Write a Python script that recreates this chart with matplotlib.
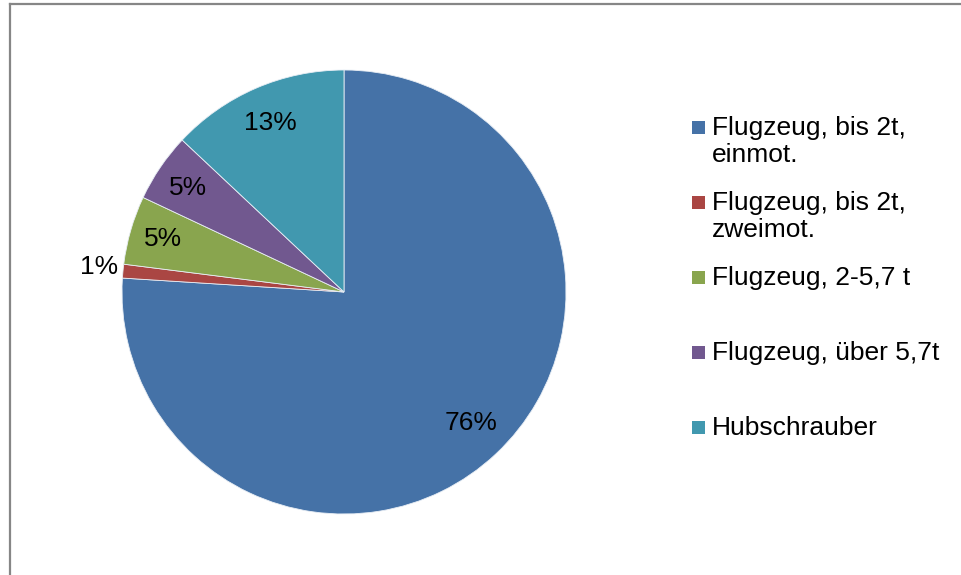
import numpy as np
import matplotlib
matplotlib.use("Agg")
import matplotlib.pyplot as plt
from matplotlib.patches import Rectangle
from matplotlib.lines import Line2D

# Anteile nach Luftfahrzeugklasse (Prozent)
categories = ["Flugzeug, bis 2t,\neinmot.", "Flugzeug, bis 2t,\nzweimot.",
              "Flugzeug, 2-5,7 t", "Flugzeug, über 5,7t", "Hubschrauber"]
shares = [76, 1, 5, 5, 13]
colors = ["#4572A7", "#AA4643", "#89A54E", "#71588F", "#4198AF"]

plt.rcParams["font.family"] = ["Liberation Sans", "DejaVu Sans"]

W, H = 961, 575
fig = plt.figure(figsize=(W / 100, H / 100), dpi=100)

# outer chart frame (only left and top edges fall inside the image)
fig.add_artist(Line2D([9.5 / W, 9.5 / W], [0, 1 - 4 / H], color="#868686", lw=1.6))
fig.add_artist(Line2D([9.5 / W, 1], [1 - 4 / H, 1 - 4 / H], color="#868686", lw=1.6))

# pie, centre (344, 292) px, radius 222 px
cx, cy, r = 344, 292, 222
ax = fig.add_axes([(cx - r) / W, (H - cy - r) / H, 2 * r / W, 2 * r / H])

wedges, _ = ax.pie(shares, colors=colors, startangle=90, counterclock=False,
                   radius=1, wedgeprops=dict(edgecolor="#e8eef5", linewidth=0.6))
ax.set_xlim(-1, 1)
ax.set_ylim(-1, 1)
ax.set_aspect("equal")
ax.axis("off")

# percentage labels
label_r = [0.81, 1.11, 0.85, 0.85, 0.84]
label_dy = [0.0, 0.01, 0.0, -0.01, -0.01]
for w, v, lr, dy in zip(wedges, shares, label_r, label_dy):
    mid = np.deg2rad((w.theta1 + w.theta2) / 2)
    ax.text(lr * np.cos(mid) + (0.02 if v == 76 else 0), lr * np.sin(mid) + dy,
            f"{v}%", ha="center", va="center", fontsize=19, color="black")

# legend, entries spaced evenly, text top-aligned
top0 = 119
step = 75
for i, (lab, c) in enumerate(zip(categories, colors)):
    ytop = top0 + i * step
    fig.add_artist(Rectangle((692 / W, 1 - (ytop + 15) / H), 13 / W, 13 / H,
                             transform=fig.transFigure, facecolor=c, edgecolor="none"))
    fig.text(712 / W, 1 - (ytop - 3) / H, lab, ha="left", va="top", fontsize=19,
             linespacing=1.15, color="black")

fig.savefig("out.png", dpi=100, facecolor="white")
